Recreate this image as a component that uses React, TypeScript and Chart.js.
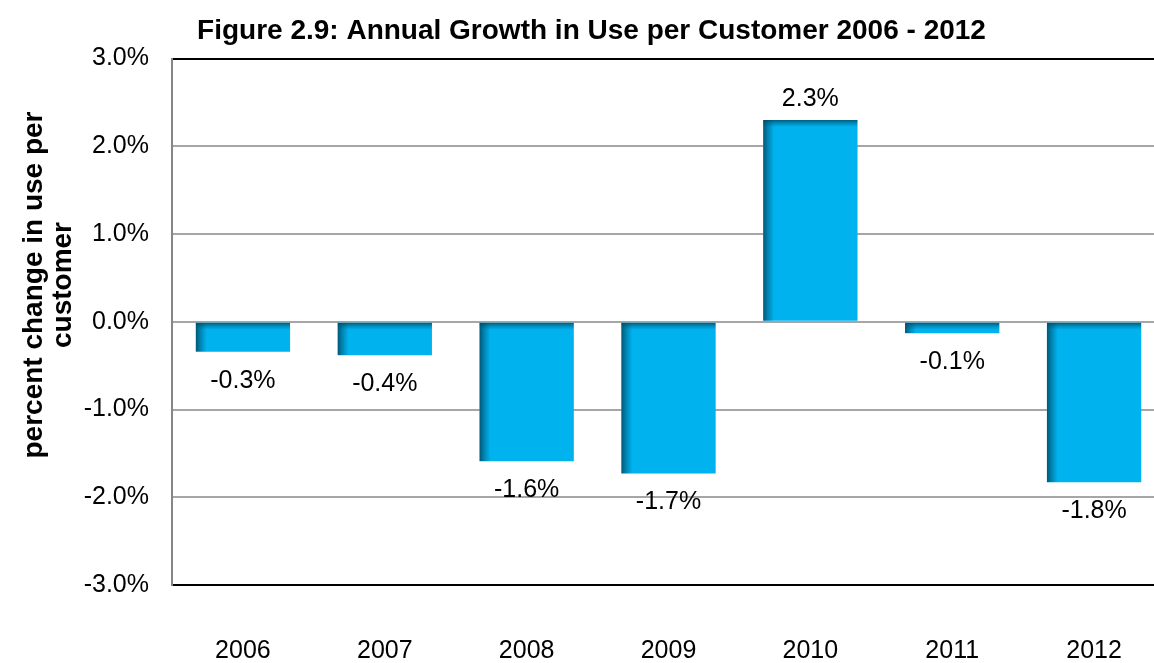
import React, { useEffect, useRef } from "react";
import { Chart, registerables } from "chart.js";

Chart.register(...registerables);

const TITLE = "Figure 2.9: Annual Growth in Use per Customer 2006 - 2012";
const Y_TITLE_LINES = ["percent change in use per", "customer"];
const years = ["2006", "2007", "2008", "2009", "2010", "2011", "2012"];
const growthPct = [-0.34, -0.38, -1.59, -1.73, 2.3, -0.13, -1.83];
const Y_MIN = -3;
const Y_MAX = 3;
const Y_STEP = 1;

const FONT = "'Liberation Sans', Arial, Helvetica, sans-serif";

const shadowPlugin = {
  id: "barShadow",
  afterDatasetsDraw(chart: any) {
    const ctx = chart.ctx;
    const meta = chart.getDatasetMeta(0);
    meta.data.forEach((bar: any) => {
      const { x, y, base, width } = bar.getProps(["x", "y", "base", "width"], true);
      const left = x - width / 2;
      const top = Math.min(y, base);
      const h = Math.abs(base - y);
      ctx.save();
      ctx.beginPath();
      ctx.rect(left, top, width, h);
      ctx.clip();
      const lw = Math.min(11, width);
      const gl = ctx.createLinearGradient(left, 0, left + lw, 0);
      gl.addColorStop(0, "rgba(0,70,95,0.85)");
      gl.addColorStop(0.35, "rgba(0,80,110,0.55)");
      gl.addColorStop(1, "rgba(0,90,120,0)");
      ctx.fillStyle = gl;
      ctx.fillRect(left, top, lw, h);
      const th = Math.min(7, h);
      const gt = ctx.createLinearGradient(0, top, 0, top + th);
      gt.addColorStop(0, "rgba(0,70,95,0.8)");
      gt.addColorStop(0.4, "rgba(0,80,110,0.45)");
      gt.addColorStop(1, "rgba(0,90,120,0)");
      ctx.fillStyle = gt;
      ctx.fillRect(left, top, width, th);
      ctx.restore();
    });
  },
};

const labelPlugin = {
  id: "valueLabels",
  afterDatasetsDraw(chart: any) {
    const ctx = chart.ctx;
    const meta = chart.getDatasetMeta(0);
    const data = chart.data.datasets[0].data as number[];
    ctx.save();
    ctx.font = `25px ${FONT}`;
    ctx.fillStyle = "#000";
    ctx.textAlign = "center";
    ctx.textBaseline = "middle";
    meta.data.forEach((bar: any, i: number) => {
      const v = data[i];
      const txt = v.toFixed(1) + "%";
      const yy = v >= 0 ? bar.y - 21 : bar.y + 29;
      ctx.fillText(txt, bar.x, yy);
    });
    ctx.restore();
  },
};

const yTitlePlugin = {
  id: "yTitle",
  afterDraw(chart: any) {
    const ctx = chart.ctx;
    ctx.save();
    ctx.translate(34, 285);
    ctx.rotate(-Math.PI / 2);
    ctx.font = `bold 28px ${FONT}`;
    ctx.fillStyle = "#000";
    ctx.textAlign = "center";
    ctx.textBaseline = "middle";
    Y_TITLE_LINES.forEach((line, i) => ctx.fillText(line, 0, i * 29));
    ctx.restore();
  },
};

export default function App() {
  const ref = useRef<HTMLCanvasElement | null>(null);
  useEffect(() => {
    if (!ref.current) return;
    const chart = new Chart(ref.current, {
      type: "bar",
      data: {
        labels: years,
        datasets: [
          {
            data: growthPct,
            backgroundColor: "#00B2EE",
            borderWidth: 0,
            categoryPercentage: 1,
            barPercentage: 0.665,
          },
        ],
      },
      options: {
        animation: false,
        responsive: true,
        maintainAspectRatio: false,
        layout: { padding: { left: 18, right: 17, top: 0, bottom: 0 } },
        plugins: {
          legend: { display: false },
          tooltip: { enabled: false },
          title: {
            display: true,
            text: TITLE,
            color: "#000",
            font: { family: FONT, size: 28, weight: "bold" },
            padding: { top: 14, bottom: 11 },
          },
        },
        scales: {
          x: {
            grid: { display: false, drawTicks: false },
            border: { display: false },
            afterFit: (scale: any) => {
              scale.height = 78;
            },
            ticks: {
              color: "#000",
              font: { family: FONT, size: 25 },
              padding: 51,
              maxRotation: 0,
            },
          },
          y: {
            min: Y_MIN,
            max: Y_MAX,
            afterFit: (scale: any) => {
              scale.width = 154;
            },
            ticks: {
              stepSize: Y_STEP,
              color: "#000",
              font: { family: FONT, size: 25 },
              padding: 23,
              callback: (v: any) => Number(v).toFixed(1) + "%",
            },
            grid: {
              drawTicks: false,
              color: (c: any) =>
                c.tick && (c.tick.value === Y_MIN || c.tick.value === Y_MAX) ? "#000" : "#a6a6a6",
              lineWidth: 2,
            },
            border: { display: true, color: "#868686", width: 2 },
          },
        },
      },
      plugins: [shadowPlugin, labelPlugin, yTitlePlugin],
    });
    return () => chart.destroy();
  }, []);

  return (
    <div style={{ position: "fixed", left: 0, top: 0, width: 1154, height: 663, overflow: "hidden", background: "#fff" }}>
      <div style={{ position: "relative", width: 1182, height: 663 }}>
        <canvas ref={ref} />
      </div>
    </div>
  );
}
